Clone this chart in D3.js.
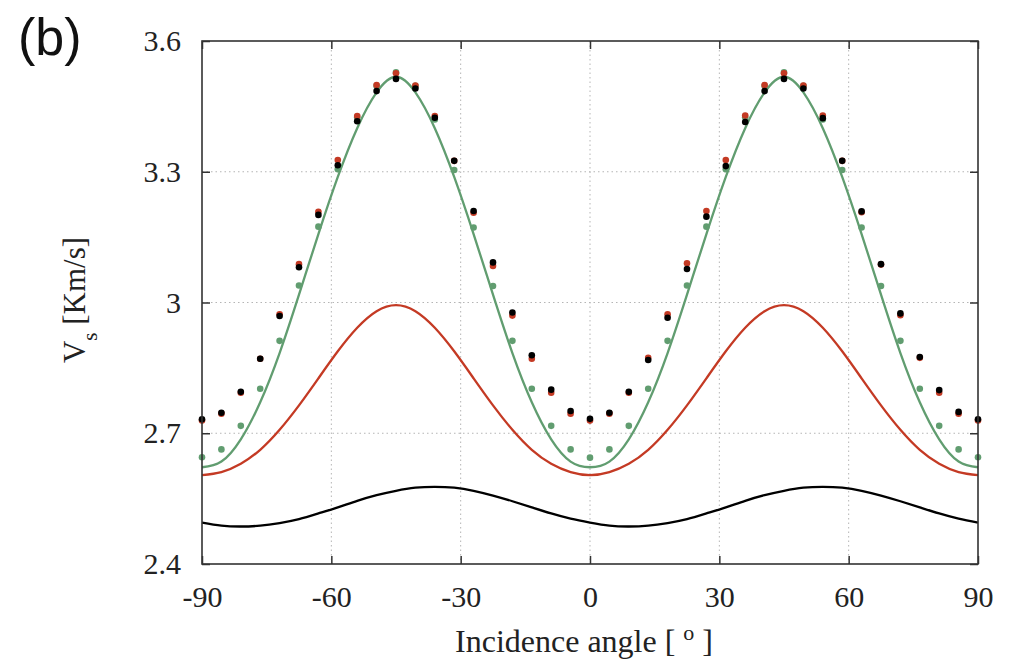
<!DOCTYPE html>
<html>
<head>
<meta charset="utf-8">
<script src="https://cdn.jsdelivr.net/npm/d3@7"></script>
<style>
  html, body { margin: 0; padding: 0; background: #fff; }
  svg { display: block; }
</style>
</head>
<body>
<svg id="chart" width="1010" height="664"></svg>
<script>
// ---------------- data ----------------
const angles = [-90, -85.5, -81, -76.5, -72, -67.5, -63, -58.5, -54, -49.5, -45, -40.5, -36, -31.5, -27, -22.5, -18, -13.5, -9, -4.5,
  0, 4.5, 9, 13.5, 18, 22.5, 27, 31.5, 36, 40.5, 45, 49.5, 54, 58.5, 63, 67.5, 72, 76.5, 81, 85.5, 90];

const xTicks = [-90, -60, -30, 0, 30, 60, 90];
const xTickLabels = ["-90", "-60", "-30", "0", "30", "60", "90"];
const yTicks = [2.4, 2.7, 3.0, 3.3, 3.6];
const yTickLabels = ["2.4", "2.7", "3", "3.3", "3.6"];

// solid lines
const lineGreen = [2.622, 2.635, 2.686, 2.771, 2.884, 3.018, 3.157, 3.288, 3.400, 3.482, 3.518, 3.482, 3.400, 3.288, 3.157, 3.018, 2.884, 2.771, 2.686, 2.635,
  2.622, 2.635, 2.686, 2.771, 2.884, 3.018, 3.157, 3.288, 3.400, 3.482, 3.518, 3.482, 3.400, 3.288, 3.157, 3.018, 2.884, 2.771, 2.686, 2.635, 2.622];
const lineRed = [2.604, 2.611, 2.630, 2.662, 2.708, 2.764, 2.826, 2.888, 2.942, 2.980, 2.994, 2.980, 2.942, 2.888, 2.826, 2.764, 2.708, 2.662, 2.630, 2.611,
  2.604, 2.611, 2.630, 2.662, 2.708, 2.764, 2.826, 2.888, 2.942, 2.980, 2.994, 2.980, 2.942, 2.888, 2.826, 2.764, 2.708, 2.662, 2.630, 2.611, 2.604];
const lineBlack = [2.495, 2.488, 2.486, 2.488, 2.494, 2.503, 2.516, 2.530, 2.545, 2.558, 2.568, 2.575, 2.577, 2.575, 2.568, 2.557, 2.544, 2.530, 2.516, 2.504,
  2.495, 2.488, 2.486, 2.488, 2.494, 2.503, 2.516, 2.530, 2.545, 2.558, 2.568, 2.575, 2.577, 2.575, 2.568, 2.557, 2.544, 2.530, 2.516, 2.504, 2.495];

// dots
const dotsGreen = [2.645, 2.663, 2.717, 2.802, 2.912, 3.039, 3.174, 3.306, 3.425, 3.497, 3.528, 3.497, 3.420, 3.304, 3.172, 3.038, 2.912, 2.802, 2.717, 2.663,
  2.644, 2.663, 2.717, 2.802, 2.912, 3.039, 3.174, 3.306, 3.425, 3.497, 3.528, 3.497, 3.420, 3.304, 3.172, 3.038, 2.912, 2.802, 2.717, 2.663, 2.645];
const dotsRed = [2.729, 2.745, 2.793, 2.871, 2.973, 3.088, 3.208, 3.327, 3.428, 3.499, 3.526, 3.498, 3.428, 3.325, 3.206, 3.084, 2.970, 2.871, 2.793, 2.745,
  2.729, 2.745, 2.793, 2.873, 2.973, 3.090, 3.210, 3.327, 3.429, 3.499, 3.526, 3.498, 3.429, 3.325, 3.207, 3.087, 2.971, 2.873, 2.793, 2.745, 2.729];
const dotsBlack = [2.732, 2.747, 2.795, 2.871, 2.969, 3.081, 3.201, 3.315, 3.416, 3.485, 3.513, 3.491, 3.424, 3.325, 3.210, 3.092, 2.977, 2.879, 2.800, 2.751,
  2.733, 2.747, 2.795, 2.868, 2.965, 3.077, 3.197, 3.313, 3.414, 3.485, 3.513, 3.491, 3.423, 3.325, 3.209, 3.088, 2.975, 2.875, 2.799, 2.749, 2.732];

// ---------------- layout ----------------
const svg = d3.select("#chart");
const L = 202, R = 978, T = 41, B = 564;
const GREEN = "#619d70", RED = "#c43a24", BLACK = "#000";

const x = d3.scaleLinear().domain([-90, 90]).range([L, R]);
const y = d3.scaleLinear().domain([2.4, 3.6]).range([B, T]);

// grid
const grid = svg.append("g");
grid.selectAll(".gx").data(xTicks.slice(1, -1)).join("line")
  .attr("x1", d => x(d)).attr("x2", d => x(d)).attr("y1", T).attr("y2", B)
  .attr("stroke", "#b5b5b5").attr("stroke-width", 1).attr("stroke-dasharray", "1.5,3");
grid.selectAll(".gy").data(yTicks.slice(1, -1)).join("line")
  .attr("x1", L).attr("x2", R).attr("y1", d => y(d)).attr("y2", d => y(d))
  .attr("stroke", "#b5b5b5").attr("stroke-width", 1).attr("stroke-dasharray", "1.5,3");

// axes
const serif = "'Liberation Serif', 'Times New Roman', serif";
const axB = svg.append("g").attr("transform", `translate(0,${B})`)
  .call(d3.axisBottom(x).tickValues(xTicks).tickSize(-8).tickPadding(20).tickFormat((d, i) => xTickLabels[i]));
const axT = svg.append("g").attr("transform", `translate(0,${T})`)
  .call(d3.axisTop(x).tickValues(xTicks).tickSize(-8).tickFormat(""));
const axLf = svg.append("g").attr("transform", `translate(${L},0)`)
  .call(d3.axisLeft(y).tickValues(yTicks).tickSize(-8).tickPadding(21).tickFormat((d, i) => yTickLabels[i]));
const axRt = svg.append("g").attr("transform", `translate(${R},0)`)
  .call(d3.axisRight(y).tickValues(yTicks).tickSize(-8).tickFormat(""));
[axB, axT, axLf, axRt].forEach(g => {
  g.attr("font-family", serif);
  g.select(".domain").remove();
  g.selectAll(".tick line").attr("stroke", "#333").attr("stroke-width", 1.5);
  g.selectAll(".tick text").attr("font-family", serif).attr("font-size", 30).attr("fill", "#222");
});
axB.selectAll(".tick text").attr("dy", "0.75em");

// lines
const lineGen = arr => d3.line()
  .x((d, i) => x(angles[i]))
  .y(d => y(d))
  .curve(d3.curveNatural)(arr);

const lines = [[lineBlack, BLACK], [lineRed, RED], [lineGreen, GREEN]];
svg.append("g").selectAll("path").data(lines).join("path")
  .attr("d", d => lineGen(d[0]))
  .attr("fill", "none").attr("stroke", d => d[1]).attr("stroke-width", 2.3);

// dots
const dotSets = [[dotsGreen, GREEN], [dotsRed, RED], [dotsBlack, BLACK]];
dotSets.forEach(([arr, col]) => {
  svg.append("g").selectAll("circle").data(arr).join("circle")
    .attr("cx", (d, i) => x(angles[i])).attr("cy", d => y(d)).attr("r", 3.3).attr("fill", col);
});

// frame
svg.append("rect").attr("x", L).attr("y", T).attr("width", R - L).attr("height", B - T)
  .attr("fill", "none").attr("stroke", "#333").attr("stroke-width", 1.6);

// x label
const xl = svg.append("text").attr("x", 584).attr("y", 652).attr("text-anchor", "middle")
  .attr("font-family", serif).attr("font-size", 32).attr("fill", "#222");
xl.append("tspan").text("Incidence angle [ ");
xl.append("tspan").attr("baseline-shift", "super").attr("font-size", 22).text("o");
xl.append("tspan").text(" ]");

// y label
const yl = svg.append("text").attr("transform", "translate(85,300) rotate(-90)").attr("text-anchor", "middle")
  .attr("font-family", serif).attr("font-size", 31).attr("fill", "#222");
yl.append("tspan").text("V");
yl.append("tspan").attr("baseline-shift", "sub").attr("font-size", 21).text("s");
yl.append("tspan").text(" [Km/s]");

// panel label
svg.append("text").attr("x", 18).attr("y", 55).attr("font-family", "'Liberation Sans', Arial, sans-serif")
  .attr("font-size", 52).attr("fill", "#111").text("(b)");
</script>
</body>
</html>
